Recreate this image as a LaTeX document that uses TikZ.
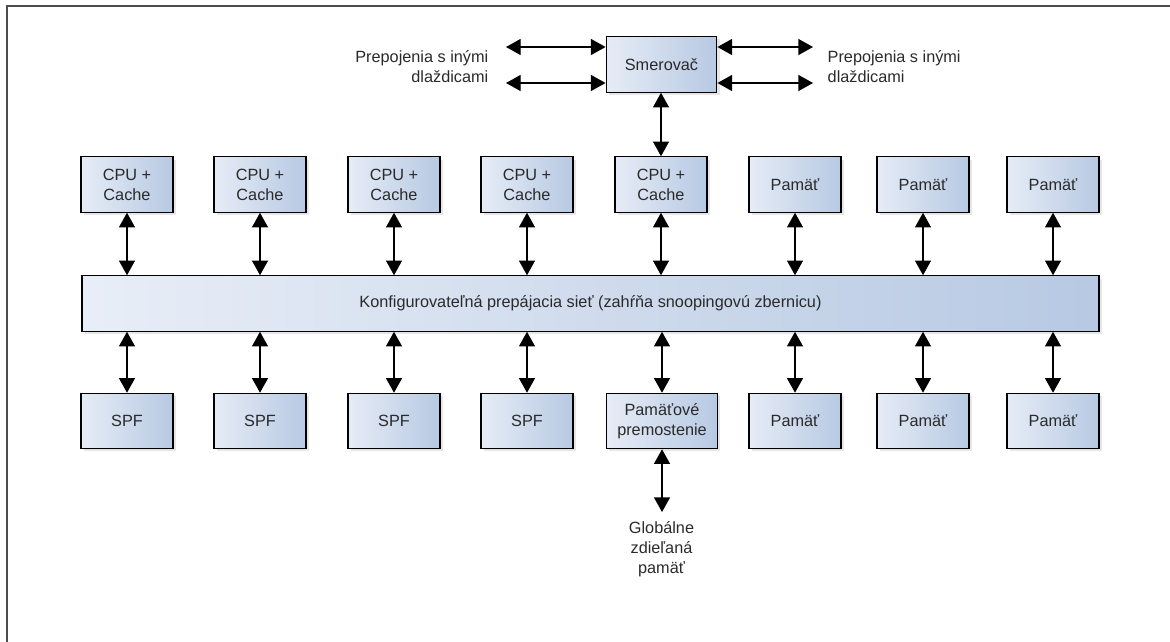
\documentclass[tikz,border=0pt]{standalone}
\usepackage{fontspec}
\setmainfont{Liberation Sans}
\usepackage{tikz}
\usetikzlibrary{arrows.meta,shadows}

\definecolor{boxleft}{HTML}{E6ECF6}
\definecolor{boxright}{HTML}{B7C9E3}
\definecolor{txtgray}{HTML}{2A2A2A}

\tikzset{
  unit/.style={draw=black, line width=0.9pt, left color=boxleft, right color=boxright,
    minimum width=69pt, minimum height=41.5pt, inner sep=2pt, align=center,
    text=txtgray, font=\fontsize{12.2}{15}\selectfont,
    drop shadow={opacity=0.2, shadow xshift=2pt, shadow yshift=-2pt}},
  link/.style={{Triangle[width=12pt,length=11pt]}-{Triangle[width=12pt,length=11pt]}, line width=1pt},
  lbl/.style={text=txtgray, font=\fontsize{12.2}{15}\selectfont}
}

\begin{document}
\begin{tikzpicture}[x=0.75pt,y=-0.75pt]
  \useasboundingbox (0,0) rectangle (1170,642);
  \draw[line width=1.1pt, black!70] (7,642) -- (7,6) -- (1170,6);

  \node[unit, minimum width=83pt] (smer) at (661.5,64.5) {Smerovač};
  \node[lbl, anchor=east, align=right] (lt) at (493,67) {Prepojenia s inými\\dlaždicami};
  \node[lbl, anchor=west, align=left] (rt) at (823,67) {Prepojenia s inými\\dlaždicami};
  \coordinate (l1) at (506,47); \coordinate (l2) at (506,83);
  \coordinate (r1) at (813,47); \coordinate (r2) at (813,83);
  \foreach \c in {l1,l2} { \draw[link] (smer.west |- \c) -- (\c); }
  \foreach \c in {r1,r2} { \draw[link] (smer.east |- \c) -- (\c); }

  \node[unit, minimum width=762.75pt, left color=boxleft!90!white, right color=boxright] (bus) at (590.5,303.5)
    {Konfigurovateľná prepájacia sieť (zahŕňa snoopingovú zbernicu)};

  \foreach \x [count=\i] in {127,260,394,527,661} { \node[unit] (top\i) at (\x,184.5) {CPU +\\Cache}; }
  \foreach \x [count=\i from 6] in {795,923,1053} { \node[unit] (top\i) at (\x,184.5) {Pamäť}; }
  \foreach \x [count=\i] in {127,260,394,527} { \node[unit] (bot\i) at (\x,421) {SPF}; }
  \node[unit, minimum width=83pt] (bot5) at (662,421) {Pamäťové\\premostenie};
  \foreach \x [count=\i from 6] in {795,923,1053} { \node[unit] (bot\i) at (\x,421) {Pamäť}; }

  \foreach \i in {1,...,8} {
    \draw[link] (top\i.south) -- (top\i.south |- bus.north);
    \draw[link] (bot\i.north) -- (bot\i.north |- bus.south);
  }
  \draw[link] (top5.north) -- (top5.north |- smer.south);

  \node[lbl, anchor=north, align=center, inner sep=7pt] (glob) at (661.5,512) {Globálne\\zdieľaná\\pamäť};
  \draw[link] (bot5.south) -- (bot5.south |- glob.north);
\end{tikzpicture}
\end{document}
